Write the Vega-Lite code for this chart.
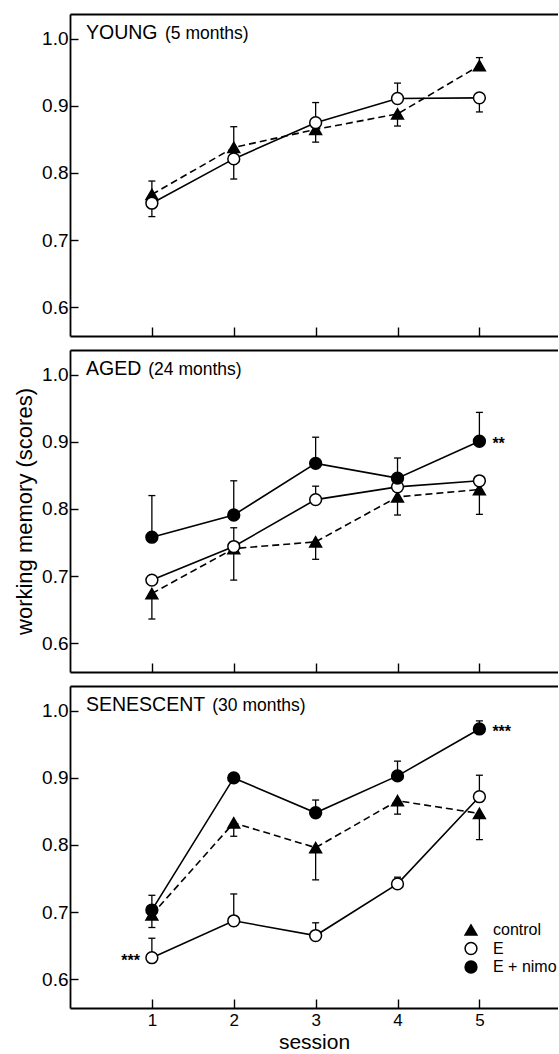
{
  "$schema": "https://vega.github.io/schema/vega-lite/v6.json",
  "padding": {"left": 13, "top": 14, "right": 0, "bottom": 0},
  "spacing": 13,
  "datasets": {
    "scores": [
      {"panel": "YOUNG", "group": "control", "session": 1, "score": 0.768, "bar": 0.788},
      {"panel": "YOUNG", "group": "control", "session": 2, "score": 0.838, "bar": 0.869},
      {"panel": "YOUNG", "group": "control", "session": 3, "score": 0.865, "bar": 0.846},
      {"panel": "YOUNG", "group": "control", "session": 4, "score": 0.888, "bar": 0.870},
      {"panel": "YOUNG", "group": "control", "session": 5, "score": 0.960, "bar": 0.972},
      {"panel": "YOUNG", "group": "E", "session": 1, "score": 0.755, "bar": 0.735},
      {"panel": "YOUNG", "group": "E", "session": 2, "score": 0.821, "bar": 0.791},
      {"panel": "YOUNG", "group": "E", "session": 3, "score": 0.875, "bar": 0.905},
      {"panel": "YOUNG", "group": "E", "session": 4, "score": 0.911, "bar": 0.934},
      {"panel": "YOUNG", "group": "E", "session": 5, "score": 0.912, "bar": 0.891},
      {"panel": "AGED", "group": "control", "session": 1, "score": 0.674, "bar": 0.636},
      {"panel": "AGED", "group": "control", "session": 2, "score": 0.741, "bar": 0.694},
      {"panel": "AGED", "group": "control", "session": 3, "score": 0.751, "bar": 0.725},
      {"panel": "AGED", "group": "control", "session": 4, "score": 0.818, "bar": 0.791},
      {"panel": "AGED", "group": "control", "session": 5, "score": 0.829, "bar": 0.792},
      {"panel": "AGED", "group": "E", "session": 1, "score": 0.694, "bar": null},
      {"panel": "AGED", "group": "E", "session": 2, "score": 0.744, "bar": 0.772},
      {"panel": "AGED", "group": "E", "session": 3, "score": 0.814, "bar": 0.834},
      {"panel": "AGED", "group": "E", "session": 4, "score": 0.833, "bar": null},
      {"panel": "AGED", "group": "E", "session": 5, "score": 0.842, "bar": null},
      {"panel": "AGED", "group": "E + nimo", "session": 1, "score": 0.758, "bar": 0.820},
      {"panel": "AGED", "group": "E + nimo", "session": 2, "score": 0.791, "bar": 0.842},
      {"panel": "AGED", "group": "E + nimo", "session": 3, "score": 0.868, "bar": 0.907},
      {"panel": "AGED", "group": "E + nimo", "session": 4, "score": 0.846, "bar": 0.876},
      {"panel": "AGED", "group": "E + nimo", "session": 5, "score": 0.901, "bar": 0.944, "sig": "**"},
      {"panel": "SENESCENT", "group": "control", "session": 1, "score": 0.696, "bar": 0.677},
      {"panel": "SENESCENT", "group": "control", "session": 2, "score": 0.833, "bar": 0.813},
      {"panel": "SENESCENT", "group": "control", "session": 3, "score": 0.796, "bar": 0.748},
      {"panel": "SENESCENT", "group": "control", "session": 4, "score": 0.866, "bar": 0.846},
      {"panel": "SENESCENT", "group": "control", "session": 5, "score": 0.847, "bar": 0.808},
      {"panel": "SENESCENT", "group": "E", "session": 1, "score": 0.632, "bar": 0.661, "sig": "***"},
      {"panel": "SENESCENT", "group": "E", "session": 2, "score": 0.687, "bar": 0.727},
      {"panel": "SENESCENT", "group": "E", "session": 3, "score": 0.665, "bar": 0.684},
      {"panel": "SENESCENT", "group": "E", "session": 4, "score": 0.742, "bar": 0.752},
      {"panel": "SENESCENT", "group": "E", "session": 5, "score": 0.872, "bar": 0.904},
      {"panel": "SENESCENT", "group": "E + nimo", "session": 1, "score": 0.703, "bar": 0.725},
      {"panel": "SENESCENT", "group": "E + nimo", "session": 2, "score": 0.900, "bar": null},
      {"panel": "SENESCENT", "group": "E + nimo", "session": 3, "score": 0.848, "bar": 0.867},
      {"panel": "SENESCENT", "group": "E + nimo", "session": 4, "score": 0.903, "bar": 0.925},
      {"panel": "SENESCENT", "group": "E + nimo", "session": 5, "score": 0.973, "bar": 0.985, "sig": "***"}
    ],
    "panels": [
      {"panel": "YOUNG", "name": "YOUNG", "age": "(5 months)"},
      {"panel": "AGED", "name": "AGED", "age": "(24 months)"},
      {"panel": "SENESCENT", "name": "SENESCENT", "age": "(30 months)"}
    ]
  },
  "vconcat": [
    {
      "width": 488, "height": 322,
      "resolve": {"axis": {"x": "independent"}},
      "layer": [
        {
          "data": {"name": "scores"},
          "transform": [{"filter": "datum.panel === 'YOUNG' && datum.group === 'control'"}],
          "mark": {"type": "line", "strokeWidth": 1.6, "color": "black", "strokeDash": [7, 4]},
          "encoding": {
            "x": {"field": "session", "type": "quantitative", "scale": {"domain": [0, 5.96], "nice": false, "zero": false},
                  "axis": {"orient": "bottom", "values": [1, 2, 3, 4, 5], "tickSize": -9, "labels": false, "title": null}},
            "y": {"field": "score", "type": "quantitative", "scale": {"domain": [0.557, 1.037], "nice": false, "zero": false}, "title": null,
                  "axis": {"values": [0.6, 0.7, 0.8, 0.9, 1.0], "format": ".1f", "tickSize": -8, "labelPadding": 10}}
          }
        },
        {
          "data": {"name": "scores"},
          "transform": [{"filter": "datum.panel === 'YOUNG' && datum.group !== 'control'"}],
          "mark": {"type": "line", "strokeWidth": 1.6, "color": "black"},
          "encoding": {
            "x": {"field": "session", "type": "quantitative", "axis": null},
            "y": {"field": "score", "type": "quantitative", "title": null},
            "detail": {"field": "group"}
          }
        },
        {
          "data": {"name": "scores"},
          "transform": [{"filter": "datum.panel === 'YOUNG' && isValid(datum.bar)"}],
          "mark": {"type": "rule", "strokeWidth": 1.3, "color": "black"},
          "encoding": {
            "x": {"field": "session", "type": "quantitative", "axis": null},
            "y": {"field": "score", "type": "quantitative", "title": null},
            "y2": {"field": "bar"}
          }
        },
        {
          "data": {"name": "scores"},
          "transform": [{"filter": "datum.panel === 'YOUNG' && isValid(datum.bar)"}],
          "mark": {"type": "tick", "orient": "horizontal", "size": 7, "thickness": 1.3, "color": "black", "opacity": 1},
          "encoding": {
            "x": {"field": "session", "type": "quantitative", "axis": null},
            "y": {"field": "bar", "type": "quantitative", "title": null}
          }
        },
        {
          "data": {"name": "scores"},
          "transform": [{"filter": "datum.panel === 'YOUNG'"}],
          "mark": {"type": "point", "filled": true, "size": 140, "stroke": "black", "strokeWidth": 1.5, "opacity": 1},
          "encoding": {
            "x": {"field": "session", "type": "quantitative", "axis": {"orient": "top", "ticks": false, "labels": false, "title": null}},
            "y": {"field": "score", "type": "quantitative", "title": null},
            "shape": {"field": "group", "type": "nominal", "scale": {"domain": ["control", "E", "E + nimo"], "range": ["triangle-up", "circle", "circle"]}, "legend": null},
            "fill": {"field": "group", "type": "nominal", "scale": {"domain": ["control", "E", "E + nimo"], "range": ["black", "white", "black"]}, "legend": null}
          }
        },
        {
          "data": {"name": "panels"},
          "transform": [{"filter": "datum.panel === 'YOUNG'"}],
          "mark": {"type": "text", "align": "left", "baseline": "alphabetic", "fontSize": 19.5, "color": "black"},
          "encoding": {
            "x": {"datum": 0.195, "type": "quantitative", "axis": null},
            "y": {"datum": 1.0, "type": "quantitative", "title": null},
            "text": {"field": "name"}
          }
        },
        {
          "data": {"name": "panels"},
          "transform": [{"filter": "datum.panel === 'YOUNG'"}],
          "mark": {"type": "text", "align": "left", "baseline": "alphabetic", "fontSize": 17.5, "color": "black"},
          "encoding": {
            "x": {"datum": 1.16, "type": "quantitative", "axis": null},
            "y": {"datum": 1.0, "type": "quantitative", "title": null},
            "text": {"field": "age"}
          }
        }
      ]
    },
    {
      "width": 488, "height": 322,
      "resolve": {"axis": {"x": "independent"}},
      "layer": [
        {
          "data": {"name": "scores"},
          "transform": [{"filter": "datum.panel === 'AGED' && datum.group === 'control'"}],
          "mark": {"type": "line", "strokeWidth": 1.6, "color": "black", "strokeDash": [7, 4]},
          "encoding": {
            "x": {"field": "session", "type": "quantitative", "scale": {"domain": [0, 5.96], "nice": false, "zero": false},
                  "axis": {"orient": "bottom", "values": [1, 2, 3, 4, 5], "tickSize": -9, "labels": false, "title": null}},
            "y": {"field": "score", "type": "quantitative", "scale": {"domain": [0.557, 1.037], "nice": false, "zero": false}, "title": "working memory (scores)",
                  "axis": {"values": [0.6, 0.7, 0.8, 0.9, 1.0], "format": ".1f", "tickSize": -8, "labelPadding": 10, "titleFontSize": 22, "titlePadding": 5}}
          }
        },
        {
          "data": {"name": "scores"},
          "transform": [{"filter": "datum.panel === 'AGED' && datum.group !== 'control'"}],
          "mark": {"type": "line", "strokeWidth": 1.6, "color": "black"},
          "encoding": {
            "x": {"field": "session", "type": "quantitative", "axis": null},
            "y": {"field": "score", "type": "quantitative", "title": "working memory (scores)"},
            "detail": {"field": "group"}
          }
        },
        {
          "data": {"name": "scores"},
          "transform": [{"filter": "datum.panel === 'AGED' && isValid(datum.bar)"}],
          "mark": {"type": "rule", "strokeWidth": 1.3, "color": "black"},
          "encoding": {
            "x": {"field": "session", "type": "quantitative", "axis": null},
            "y": {"field": "score", "type": "quantitative", "title": "working memory (scores)"},
            "y2": {"field": "bar"}
          }
        },
        {
          "data": {"name": "scores"},
          "transform": [{"filter": "datum.panel === 'AGED' && isValid(datum.bar)"}],
          "mark": {"type": "tick", "orient": "horizontal", "size": 7, "thickness": 1.3, "color": "black", "opacity": 1},
          "encoding": {
            "x": {"field": "session", "type": "quantitative", "axis": null},
            "y": {"field": "bar", "type": "quantitative", "title": "working memory (scores)"}
          }
        },
        {
          "data": {"name": "scores"},
          "transform": [{"filter": "datum.panel === 'AGED'"}],
          "mark": {"type": "point", "filled": true, "size": 140, "stroke": "black", "strokeWidth": 1.5, "opacity": 1},
          "encoding": {
            "x": {"field": "session", "type": "quantitative", "axis": {"orient": "top", "ticks": false, "labels": false, "title": null}},
            "y": {"field": "score", "type": "quantitative", "title": "working memory (scores)"},
            "shape": {"field": "group", "type": "nominal", "scale": {"domain": ["control", "E", "E + nimo"], "range": ["triangle-up", "circle", "circle"]}, "legend": null},
            "fill": {"field": "group", "type": "nominal", "scale": {"domain": ["control", "E", "E + nimo"], "range": ["black", "white", "black"]}, "legend": null}
          }
        },
        {
          "data": {"name": "scores"},
          "transform": [{"filter": "datum.panel === 'AGED' && isValid(datum.sig)"}],
          "mark": {"type": "text", "align": "left", "baseline": "alphabetic", "dx": 13, "dy": 8, "fontSize": 16, "fontWeight": "bold", "color": "black"},
          "encoding": {
            "x": {"field": "session", "type": "quantitative", "axis": null},
            "y": {"field": "score", "type": "quantitative", "title": "working memory (scores)"},
            "text": {"field": "sig"}
          }
        },
        {
          "data": {"name": "panels"},
          "transform": [{"filter": "datum.panel === 'AGED'"}],
          "mark": {"type": "text", "align": "left", "baseline": "alphabetic", "fontSize": 19.5, "color": "black"},
          "encoding": {
            "x": {"datum": 0.195, "type": "quantitative", "axis": null},
            "y": {"datum": 1.0, "type": "quantitative", "title": "working memory (scores)"},
            "text": {"field": "name"}
          }
        },
        {
          "data": {"name": "panels"},
          "transform": [{"filter": "datum.panel === 'AGED'"}],
          "mark": {"type": "text", "align": "left", "baseline": "alphabetic", "fontSize": 17.5, "color": "black"},
          "encoding": {
            "x": {"datum": 0.956, "type": "quantitative", "axis": null},
            "y": {"datum": 1.0, "type": "quantitative", "title": "working memory (scores)"},
            "text": {"field": "age"}
          }
        }
      ]
    },
    {
      "width": 488, "height": 322,
      "resolve": {"axis": {"x": "independent"}},
      "layer": [
        {
          "data": {"name": "scores"},
          "transform": [{"filter": "datum.panel === 'SENESCENT' && datum.group === 'control'"}],
          "mark": {"type": "line", "strokeWidth": 1.6, "color": "black", "strokeDash": [7, 4]},
          "encoding": {
            "x": {"field": "session", "type": "quantitative", "scale": {"domain": [0, 5.96], "nice": false, "zero": false},
                  "axis": {"orient": "bottom", "values": [1, 2, 3, 4, 5], "tickSize": -9, "labels": true, "labelFontSize": 17, "labelPadding": 13, "title": "session", "titleFontSize": 21, "titlePadding": 3}},
            "y": {"field": "score", "type": "quantitative", "scale": {"domain": [0.557, 1.037], "nice": false, "zero": false}, "title": null,
                  "axis": {"values": [0.6, 0.7, 0.8, 0.9, 1.0], "format": ".1f", "tickSize": -8, "labelPadding": 10}}
          }
        },
        {
          "data": {"name": "scores"},
          "transform": [{"filter": "datum.panel === 'SENESCENT' && datum.group !== 'control'"}],
          "mark": {"type": "line", "strokeWidth": 1.6, "color": "black"},
          "encoding": {
            "x": {"field": "session", "type": "quantitative", "axis": null},
            "y": {"field": "score", "type": "quantitative", "title": null},
            "detail": {"field": "group"}
          }
        },
        {
          "data": {"name": "scores"},
          "transform": [{"filter": "datum.panel === 'SENESCENT' && isValid(datum.bar)"}],
          "mark": {"type": "rule", "strokeWidth": 1.3, "color": "black"},
          "encoding": {
            "x": {"field": "session", "type": "quantitative", "axis": null},
            "y": {"field": "score", "type": "quantitative", "title": null},
            "y2": {"field": "bar"}
          }
        },
        {
          "data": {"name": "scores"},
          "transform": [{"filter": "datum.panel === 'SENESCENT' && isValid(datum.bar)"}],
          "mark": {"type": "tick", "orient": "horizontal", "size": 7, "thickness": 1.3, "color": "black", "opacity": 1},
          "encoding": {
            "x": {"field": "session", "type": "quantitative", "axis": null},
            "y": {"field": "bar", "type": "quantitative", "title": null}
          }
        },
        {
          "data": {"name": "scores"},
          "transform": [{"filter": "datum.panel === 'SENESCENT'"}],
          "mark": {"type": "point", "filled": true, "size": 140, "stroke": "black", "strokeWidth": 1.5, "opacity": 1},
          "encoding": {
            "x": {"field": "session", "type": "quantitative", "axis": {"orient": "top", "ticks": false, "labels": false, "title": null}},
            "y": {"field": "score", "type": "quantitative", "title": null},
            "shape": {"field": "group", "type": "nominal", "scale": {"domain": ["control", "E", "E + nimo"], "range": ["triangle-up", "circle", "circle"]},
                      "legend": {"title": null, "orient": "none", "legendX": 393, "legendY": 236, "padding": 0, "labelFontSize": 16, "labelOffset": 14, "rowPadding": 0.5, "symbolSize": 140, "symbolStrokeColor": "black", "symbolStrokeWidth": 1.5, "symbolOpacity": 1, "labelColor": "black", "labelFont": "Liberation Sans",
                                 "encode": {"symbols": {"update": {"stroke": {"value": "black"}, "strokeWidth": {"value": 1.5}, "opacity": {"value": 1}}}}}},
            "fill": {"field": "group", "type": "nominal", "scale": {"domain": ["control", "E", "E + nimo"], "range": ["black", "white", "black"]},
                      "legend": {"title": null, "orient": "none", "legendX": 393, "legendY": 236, "padding": 0, "labelFontSize": 16, "labelOffset": 14, "rowPadding": 0.5, "symbolSize": 140, "symbolStrokeColor": "black", "symbolStrokeWidth": 1.5, "symbolOpacity": 1, "labelColor": "black", "labelFont": "Liberation Sans",
                                 "encode": {"symbols": {"update": {"stroke": {"value": "black"}, "strokeWidth": {"value": 1.5}, "opacity": {"value": 1}}}}}}
          }
        },
        {
          "data": {"name": "scores"},
          "transform": [{"filter": "datum.panel === 'SENESCENT' && isValid(datum.sig) && datum.session === 5"}],
          "mark": {"type": "text", "align": "left", "baseline": "alphabetic", "dx": 13, "dy": 8, "fontSize": 16, "fontWeight": "bold", "color": "black"},
          "encoding": {
            "x": {"field": "session", "type": "quantitative", "axis": null},
            "y": {"field": "score", "type": "quantitative", "title": null},
            "text": {"field": "sig"}
          }
        },
        {
          "data": {"name": "scores"},
          "transform": [{"filter": "datum.panel === 'SENESCENT' && isValid(datum.sig) && datum.session === 1"}],
          "mark": {"type": "text", "align": "right", "baseline": "alphabetic", "dx": -12, "dy": 8, "fontSize": 16, "fontWeight": "bold", "color": "black"},
          "encoding": {
            "x": {"field": "session", "type": "quantitative", "axis": null},
            "y": {"field": "score", "type": "quantitative", "title": null},
            "text": {"field": "sig"}
          }
        },
        {
          "data": {"name": "panels"},
          "transform": [{"filter": "datum.panel === 'SENESCENT'"}],
          "mark": {"type": "text", "align": "left", "baseline": "alphabetic", "fontSize": 19.5, "color": "black"},
          "encoding": {
            "x": {"datum": 0.195, "type": "quantitative", "axis": null},
            "y": {"datum": 1.0, "type": "quantitative", "title": null},
            "text": {"field": "name"}
          }
        },
        {
          "data": {"name": "panels"},
          "transform": [{"filter": "datum.panel === 'SENESCENT'"}],
          "mark": {"type": "text", "align": "left", "baseline": "alphabetic", "fontSize": 17.5, "color": "black"},
          "encoding": {
            "x": {"datum": 1.737, "type": "quantitative", "axis": null},
            "y": {"datum": 1.0, "type": "quantitative", "title": null},
            "text": {"field": "age"}
          }
        }
      ]
    }
  ],
  "resolve": {"scale": {"shape": "independent", "fill": "independent"}},
  "config": {
    "view": {"stroke": null},
    "font": "Liberation Sans",
    "axis": {"grid": false, "domainColor": "black", "domainWidth": 1.8, "tickColor": "black", "tickWidth": 1.4, "labelColor": "black", "titleColor": "black", "labelFontSize": 19, "titleFontWeight": "normal", "labelFont": "Liberation Sans", "titleFont": "Liberation Sans"},
    "text": {"color": "black", "font": "Liberation Sans"}
  }
}
